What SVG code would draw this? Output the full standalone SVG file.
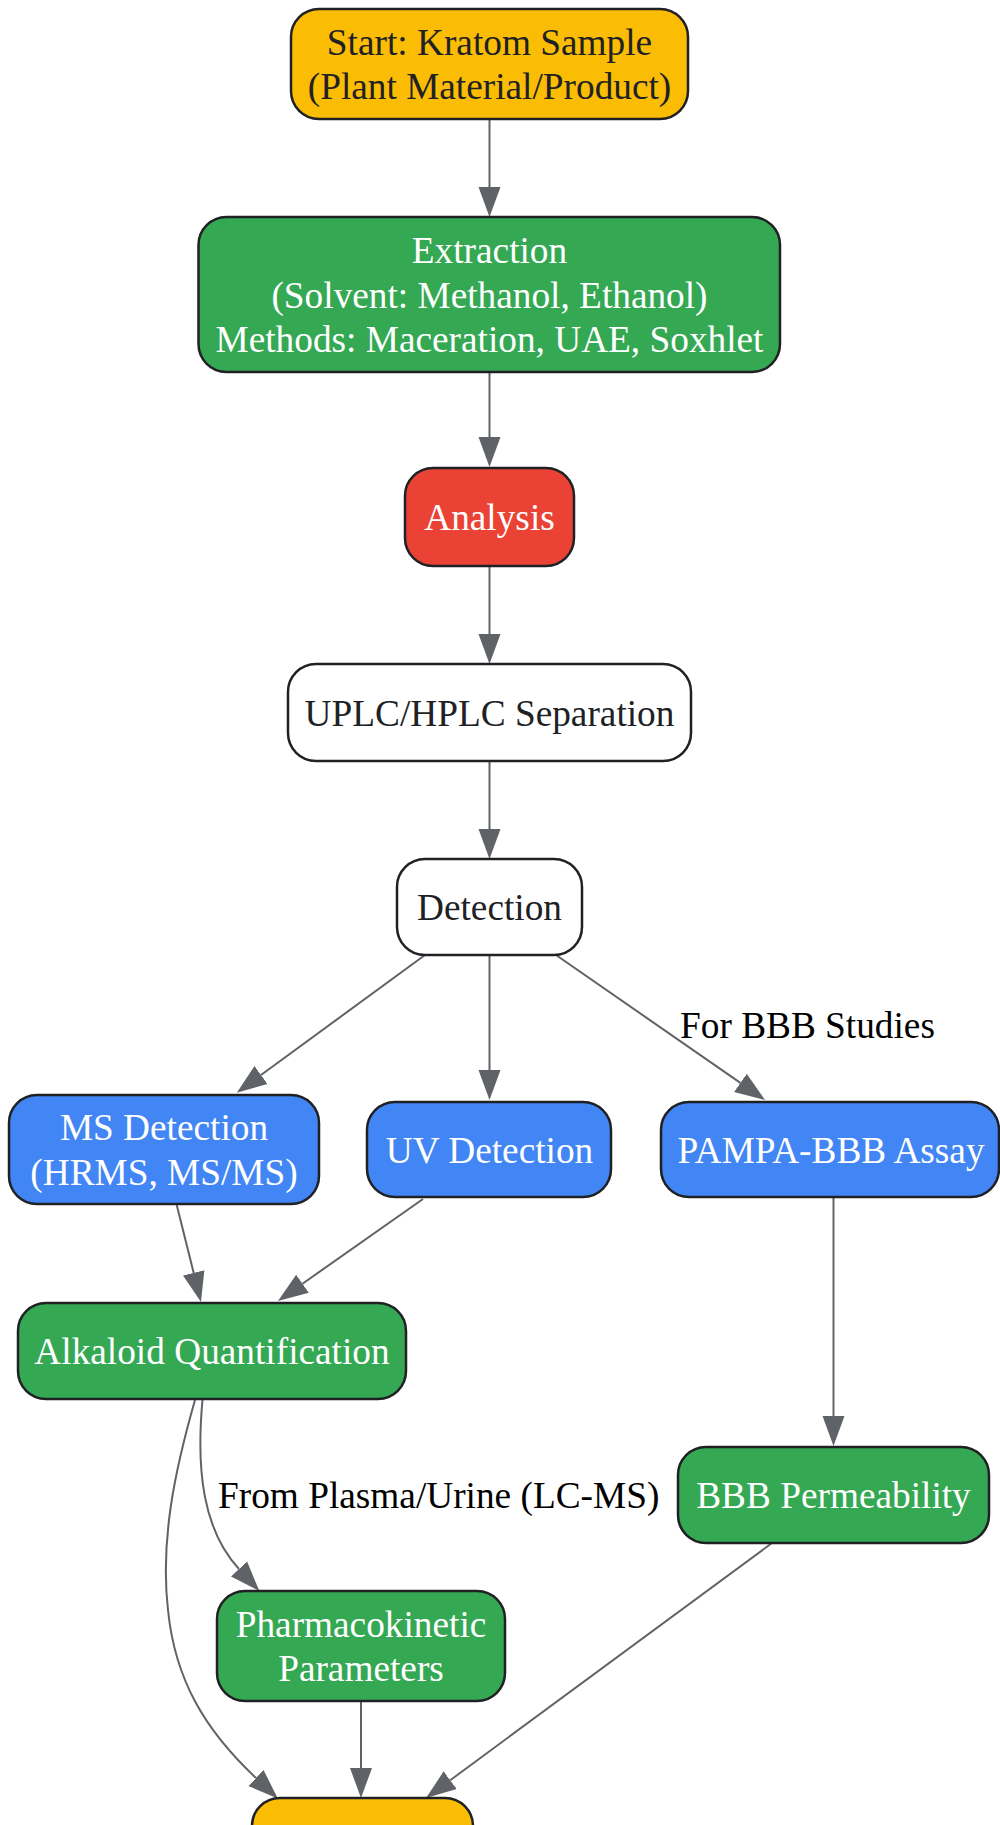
<svg xmlns="http://www.w3.org/2000/svg" width="1000" height="1825" viewBox="0 0 1000 1825">
<style>
.n{stroke:#202124;stroke-width:2.5}
.y{fill:#FBBC04}.g{fill:#34A853}.r{fill:#EA4335}.b{fill:#4285F4}.w{fill:#FFFFFF}
text{font-family:"Liberation Serif","Times New Roman",serif;font-size:37.3px;text-anchor:middle}
.dk{fill:#202124}.wt{fill:#FFFFFF}
.lbl{fill:#000000;text-anchor:start}
.e{fill:none;stroke:#5F6368;stroke-width:2;marker-end:url(#ah)}
</style>
<defs>
<marker id="ah" markerUnits="userSpaceOnUse" markerWidth="32" markerHeight="24" viewBox="0 -12 32 24" refX="0" refY="0" orient="auto">
<path d="M0,-11 L30,0 L0,11 z" fill="#5F6368"/>
</marker>
</defs>
<g id="edges">
<path class="e" d="M489.5,119 V187"/>
<path class="e" d="M489.5,372 V437"/>
<path class="e" d="M489.5,566 V634"/>
<path class="e" d="M489.5,761 V829"/>
<path class="e" d="M425,955 L261,1075"/>
<path class="e" d="M489.5,955 V1070"/>
<path class="e" d="M556,955 L740.4,1082.9"/>
<path class="e" d="M176.7,1205 L193.7,1272.9"/>
<path class="e" d="M423,1199 L302.5,1283.7"/>
<path class="e" d="M833.5,1197 V1416"/>
<path class="e" d="M202.5,1400 C196,1470 203,1530 239,1569"/>
<path class="e" d="M195,1400 C175,1470 160,1540 168,1610 C175,1680 205,1730 256,1778"/>
<path class="e" d="M361,1701 V1768"/>
<path class="e" d="M772,1543 L450.2,1780.2"/>
<text class="lbl" x="680" y="1038">For BBB Studies</text>
<text class="lbl" x="218" y="1508">From Plasma/Urine (LC-MS)</text>
</g>
<g id="start">
<rect class="n y" x="291" y="9" width="397" height="110" rx="28"/>
<text class="dk" x="489.5" y="54.6">Start: Kratom Sample</text>
<text class="dk" x="489.5" y="99.4">(Plant Material/Product)</text>
</g>
<g id="extraction">
<rect class="n g" x="198.5" y="217" width="581.5" height="155" rx="28"/>
<text class="wt" x="489.5" y="262.7">Extraction</text>
<text class="wt" x="489.5" y="307.5">(Solvent: Methanol, Ethanol)</text>
<text class="wt" x="489.5" y="352.3">Methods: Maceration, UAE, Soxhlet</text>
</g>
<g id="analysis">
<rect class="n r" x="405" y="468" width="169" height="98" rx="28"/>
<text class="wt" x="489.5" y="530">Analysis</text>
</g>
<g id="separation">
<rect class="n w" x="288" y="664" width="403" height="97" rx="28"/>
<text class="dk" x="489.5" y="725.5">UPLC/HPLC Separation</text>
</g>
<g id="detection">
<rect class="n w" x="397" y="859" width="185" height="96" rx="28"/>
<text class="dk" x="489.5" y="920">Detection</text>
</g>
<g id="ms">
<rect class="n b" x="9" y="1095" width="310" height="109" rx="28"/>
<text class="wt" x="164" y="1140">MS Detection</text>
<text class="wt" x="164" y="1185">(HRMS, MS/MS)</text>
</g>
<g id="uv">
<rect class="n b" x="367" y="1102" width="244" height="95" rx="28"/>
<text class="wt" x="489.5" y="1162.5">UV Detection</text>
</g>
<g id="pampa">
<rect class="n b" x="661" y="1102" width="338" height="95" rx="28"/>
<text class="wt" x="831" y="1162.5">PAMPA-BBB Assay</text>
</g>
<g id="alkaloid">
<rect class="n g" x="18" y="1303" width="388" height="96" rx="28"/>
<text class="wt" x="212" y="1364">Alkaloid Quantification</text>
</g>
<g id="bbb">
<rect class="n g" x="678" y="1447" width="311" height="96" rx="28"/>
<text class="wt" x="833.5" y="1508">BBB Permeability</text>
</g>
<g id="pk">
<rect class="n g" x="217" y="1591" width="288" height="110" rx="28"/>
<text class="wt" x="361" y="1636.6">Pharmacokinetic</text>
<text class="wt" x="361" y="1681.4">Parameters</text>
</g>
<g id="end">
<rect class="n y" x="252" y="1798" width="221" height="96" rx="28"/>
</g>
</svg>
